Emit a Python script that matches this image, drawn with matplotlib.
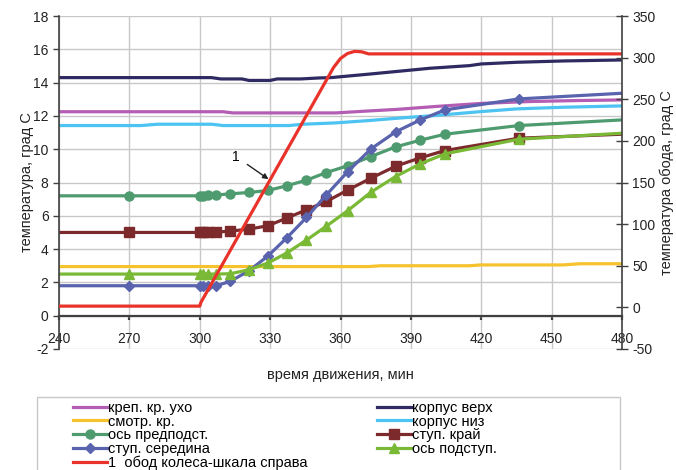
import matplotlib
matplotlib.use("Agg")
import matplotlib.pyplot as plt
from matplotlib.patches import Rectangle

plt.rcParams['font.family'] = ['Liberation Sans', 'DejaVu Sans']
plt.rcParams['axes.unicode_minus'] = False

# Time axis shared by the marked series (minutes)
t_mk = [240, 270, 300, 301.5, 303.5, 307, 313, 321, 329, 337, 345.5, 354,
        363, 373, 383.5, 394, 404.5, 436, 480]

os_predpodst = [7.2, 7.2, 7.2, 7.2, 7.22, 7.25, 7.32, 7.4, 7.52, 7.8, 8.14,
                8.6, 9.0, 9.56, 10.14, 10.54, 10.9, 11.42, 11.76]
stup_krai = [5.0, 5.0, 5.0, 5.0, 5.0, 5.02, 5.08, 5.2, 5.4, 5.86, 6.36, 6.86,
             7.54, 8.26, 8.98, 9.48, 9.92, 10.66, 10.9]
stup_seredina = [1.8, 1.8, 1.8, 1.8, 1.8, 1.8, 2.06, 2.7, 3.58, 4.66, 5.9,
                 7.26, 8.64, 10.02, 11.04, 11.76, 12.36, 13.02, 13.36]
os_podstup = [2.5, 2.5, 2.5, 2.5, 2.5, 2.5, 2.52, 2.76, 3.16, 3.76, 4.54,
              5.38, 6.3, 7.42, 8.36, 9.12, 9.72, 10.6, 10.96]

# Unmarked series, each with its own time points
t_krep = [240, 310, 314, 358, 370, 385, 400, 420, 440, 460, 480]
krep_uho = [12.25, 12.25, 12.18, 12.18, 12.28, 12.4, 12.56, 12.75, 12.86,
            12.92, 12.96]

t_verh = [240, 305, 309, 318, 321, 330, 333, 343, 351, 356, 373, 398, 415,
          420, 435, 455, 480]
korpus_verh = [14.3, 14.3, 14.22, 14.22, 14.13, 14.13, 14.22, 14.22, 14.28,
               14.3, 14.52, 14.86, 15.02, 15.12, 15.22, 15.3, 15.36]

t_smotr = [240, 372, 377, 415, 420, 455, 462, 480]
smotr_kr = [2.95, 2.95, 3.0, 3.0, 3.05, 3.05, 3.12, 3.12]

t_niz = [240, 275, 282, 305, 310, 338, 344, 358, 372, 386, 400, 420, 435,
         455, 480]
korpus_niz = [11.42, 11.42, 11.5, 11.5, 11.42, 11.42, 11.5, 11.58, 11.72,
              11.88, 12.02, 12.26, 12.42, 12.52, 12.6]

# Wheel rim, right-hand scale
t_obod = [240, 300, 300.5, 357, 360, 363, 366, 369, 372, 480]
obod = [1.5, 1.5, 6, 288, 299, 305, 307.5, 307, 304.5, 304.5]

x_ticks = [240, 270, 300, 330, 360, 390, 420, 450, 480]
left_ticks = list(range(-2, 19, 2))
right_ticks = list(range(-50, 351, 50))

fig = plt.figure(figsize=(6.76, 4.70), dpi=100)
ax = fig.add_axes([59 / 676, 1 - 349 / 470, 563 / 676, 333 / 470])
ax2 = ax.twinx()

lw = 2.3
mk_idx = list(range(1, len(t_mk) - 1))

l_krep, = ax.plot(t_krep, krep_uho, color='#b45db4', lw=lw, label='креп. кр. ухо')
l_verh, = ax.plot(t_verh, korpus_verh, color='#2f2b62', lw=lw, label='корпус верх')
l_smotr, = ax.plot(t_smotr, smotr_kr, color='#f6c22e', lw=lw, label='смотр. кр.')
l_niz, = ax.plot(t_niz, korpus_niz, color='#4cc3f0', lw=lw, label='корпус низ')
l_pred, = ax.plot(t_mk, os_predpodst, color='#4e9b6f', lw=lw, marker='o', ms=6.5,
                  markevery=mk_idx, label='ось предподст.')
l_krai, = ax.plot(t_mk, stup_krai, color='#7d2a2d', lw=lw, marker='s', ms=6.5,
                  markevery=mk_idx, label='ступ. край')
l_ser, = ax.plot(t_mk, stup_seredina, color='#5a63ae', lw=lw, marker='D', ms=5.5,
                 markevery=mk_idx, label='ступ. середина')
l_pod, = ax.plot(t_mk, os_podstup, color='#79b935', lw=lw, marker='^', ms=7,
                 markevery=mk_idx, label='ось подступ.')
l_obod, = ax2.plot(t_obod, obod, color='#e9332a', lw=lw,
                   label='1  обод колеса-шкала справа')

ax.annotate('1', xy=(329.3, 8.2), xytext=(315.5, 9.55), fontsize=10,
            ha='center', va='center',
            arrowprops=dict(arrowstyle='-|>', color='#222222', lw=1,
                            mutation_scale=8, shrinkA=4, shrinkB=0))

# Axes ranges and ticks
ax.set_xlim(240, 480)
ax.set_ylim(-2, 18)
ax2.set_ylim(-50, 350)
ax.set_xticks(x_ticks)
ax.set_yticks(left_ticks)
ax2.set_yticks(right_ticks)

ax.grid(True, color='#c8c8c8', lw=1)
ax.set_axisbelow(True)

spine_col = '#404040'
for s in ['top', 'right']:
    ax.spines[s].set_visible(False)
for s in ['top', 'bottom', 'left']:
    ax2.spines[s].set_visible(False)
ax.spines['bottom'].set_position(('data', 0))
ax.spines['bottom'].set_color(spine_col)
ax.spines['bottom'].set_linewidth(1.6)
ax.spines['left'].set_color(spine_col)
ax.spines['left'].set_linewidth(1.2)
ax2.spines['right'].set_color(spine_col)
ax2.spines['right'].set_linewidth(1.2)

ax.tick_params(axis='x', direction='out', length=3, width=1.6, color=spine_col,
               labelsize=10, pad=9, labelcolor='#222222')
ax.tick_params(axis='y', direction='out', length=4, width=1, color=spine_col,
               labelsize=10, labelcolor='#222222')
ax2.tick_params(axis='y', direction='inout', length=8, width=1, color=spine_col,
                labelsize=10, labelcolor='#222222')

ax.set_ylabel('температура, град С', fontsize=10.5, color='#222222', labelpad=-1)
ax2.set_ylabel('температура обода, град С', fontsize=10.5, color='#222222',
               labelpad=3)
fig.text(340 / 676, 1 - 375 / 470, 'время движения, мин', fontsize=10.5,
         ha='center', va='center', color='#222222')

# Legend frame and two legend columns
fig.patches.append(Rectangle((37 / 676, -0.05), 583 / 676, 0.05 + 1 - 397 / 470,
                             transform=fig.transFigure, fill=False,
                             edgecolor='#c8c8c8', lw=1))
leg_kw = dict(loc='upper left', frameon=False, fontsize=10.5, handlelength=2.3,
              handletextpad=0.1, labelspacing=-0.03, borderpad=0,
              borderaxespad=0)
fig.legend([l_krep, l_smotr, l_pred, l_ser, l_obod],
           [h.get_label() for h in [l_krep, l_smotr, l_pred, l_ser, l_obod]],
           bbox_to_anchor=(73 / 676, 1 - 401 / 470), **leg_kw)
fig.legend([l_verh, l_niz, l_krai, l_pod],
           [h.get_label() for h in [l_verh, l_niz, l_krai, l_pod]],
           bbox_to_anchor=(377 / 676, 1 - 401 / 470), **leg_kw)

fig.savefig('out.png', dpi=100)
